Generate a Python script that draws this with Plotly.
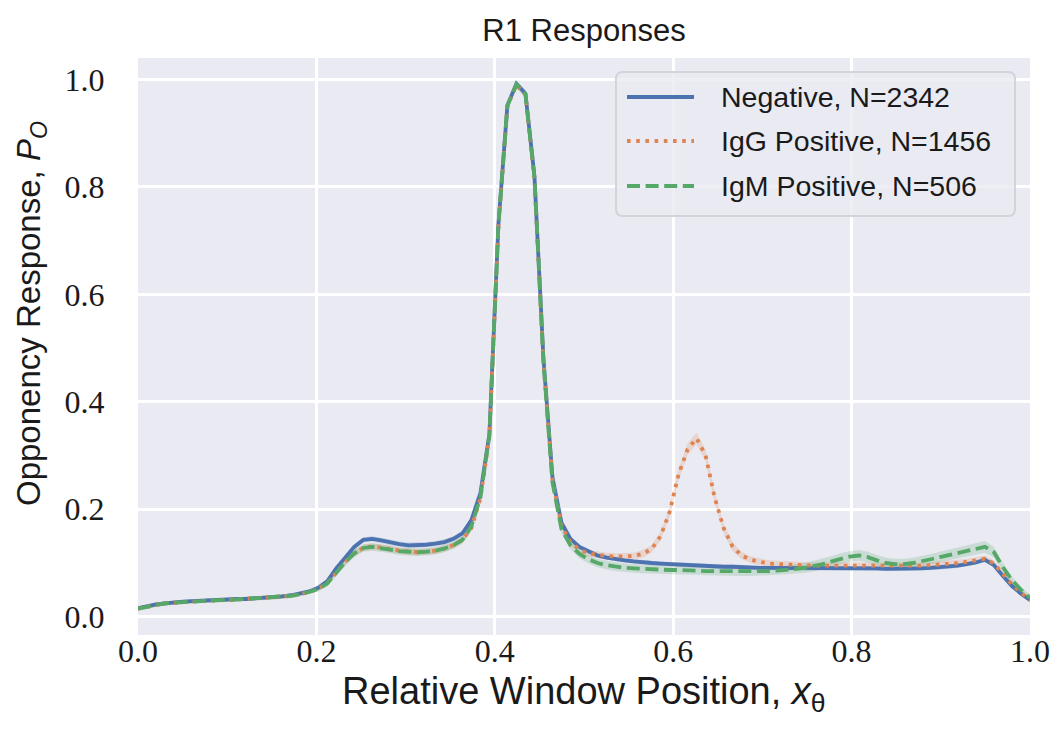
import plotly.graph_objects as go

# ---------------- data ----------------
x_pos = [i / 99 for i in range(100)]

neg = [0.016, 0.020, 0.023, 0.025, 0.027, 0.028, 0.029, 0.030, 0.031, 0.031,
       0.032, 0.033, 0.033, 0.034, 0.035, 0.036, 0.038, 0.040, 0.043, 0.047,
       0.054, 0.066, 0.090, 0.111, 0.130, 0.143, 0.145, 0.142, 0.138, 0.135,
       0.133, 0.133, 0.134, 0.136, 0.139, 0.145, 0.155, 0.180, 0.230, 0.340,
       0.730, 0.952, 0.992, 0.974, 0.820, 0.480, 0.260, 0.175, 0.145, 0.130,
       0.121, 0.114, 0.110, 0.107, 0.105, 0.103, 0.101, 0.100, 0.099, 0.098,
       0.097, 0.096, 0.095, 0.095, 0.094, 0.093, 0.093, 0.092, 0.092, 0.091,
       0.091, 0.091, 0.090, 0.090, 0.090, 0.090, 0.090, 0.090, 0.090, 0.090,
       0.090, 0.090, 0.090, 0.089, 0.089, 0.089, 0.089, 0.090, 0.091, 0.092,
       0.093, 0.095, 0.098, 0.101, 0.106, 0.096, 0.076, 0.057, 0.043, 0.031]

igg = [0.015, 0.019, 0.022, 0.025, 0.026, 0.028, 0.029, 0.030, 0.030, 0.031,
       0.031, 0.032, 0.033, 0.034, 0.035, 0.036, 0.037, 0.039, 0.042, 0.046,
       0.052, 0.063, 0.082, 0.102, 0.118, 0.128, 0.131, 0.129, 0.126, 0.123,
       0.121, 0.120, 0.121, 0.123, 0.127, 0.133, 0.143, 0.165, 0.220, 0.335,
       0.725, 0.950, 0.990, 0.972, 0.815, 0.475, 0.255, 0.170, 0.138, 0.125,
       0.118, 0.115, 0.113, 0.112, 0.112, 0.113, 0.117, 0.126, 0.150, 0.195,
       0.265, 0.312, 0.332, 0.300, 0.222, 0.165, 0.130, 0.114, 0.106, 0.102,
       0.099, 0.098, 0.097, 0.096, 0.095, 0.095, 0.095, 0.095, 0.095, 0.095,
       0.095, 0.095, 0.095, 0.095, 0.095, 0.094, 0.094, 0.095, 0.096, 0.097,
       0.098, 0.100, 0.102, 0.105, 0.108, 0.099, 0.080, 0.060, 0.045, 0.031]

igm = [0.015, 0.019, 0.022, 0.025, 0.026, 0.028, 0.029, 0.030, 0.030, 0.031,
       0.031, 0.032, 0.033, 0.034, 0.035, 0.036, 0.037, 0.039, 0.042, 0.046,
       0.052, 0.062, 0.082, 0.102, 0.118, 0.128, 0.130, 0.128, 0.125, 0.122,
       0.121, 0.120, 0.121, 0.123, 0.127, 0.133, 0.143, 0.168, 0.222, 0.338,
       0.728, 0.951, 0.991, 0.973, 0.818, 0.475, 0.250, 0.163, 0.133, 0.117,
       0.107, 0.100, 0.096, 0.093, 0.091, 0.090, 0.089, 0.088, 0.088, 0.087,
       0.087, 0.086, 0.086, 0.085, 0.085, 0.085, 0.084, 0.084, 0.084, 0.084,
       0.085, 0.086, 0.087, 0.089, 0.091, 0.094, 0.098, 0.103, 0.108, 0.112,
       0.114, 0.111, 0.105, 0.100, 0.098, 0.098, 0.100, 0.103, 0.107, 0.111,
       0.115, 0.119, 0.122, 0.126, 0.130, 0.120, 0.092, 0.068, 0.050, 0.035]

# confidence band half-widths
neg_ci = [0.003, 0.003, 0.003, 0.003, 0.003, 0.003, 0.003, 0.003, 0.003, 0.003,
          0.003, 0.003, 0.003, 0.003, 0.003, 0.003, 0.003, 0.003, 0.003, 0.003,
          0.004, 0.004, 0.005, 0.005, 0.005, 0.005, 0.005, 0.005, 0.005, 0.005,
          0.005, 0.005, 0.005, 0.005, 0.005, 0.005, 0.005, 0.005, 0.005, 0.005,
          0.005, 0.005, 0.005, 0.005, 0.005, 0.005, 0.005, 0.005, 0.004, 0.004,
          0.004, 0.004, 0.004, 0.004, 0.004, 0.004, 0.004, 0.004, 0.004, 0.004,
          0.004, 0.004, 0.004, 0.004, 0.004, 0.004, 0.004, 0.004, 0.004, 0.004,
          0.004, 0.004, 0.004, 0.004, 0.004, 0.004, 0.004, 0.004, 0.004, 0.004,
          0.004, 0.004, 0.004, 0.004, 0.004, 0.004, 0.004, 0.004, 0.004, 0.004,
          0.004, 0.004, 0.004, 0.004, 0.004, 0.004, 0.004, 0.004, 0.004, 0.004]

igg_ci = [0.004, 0.004, 0.004, 0.004, 0.004, 0.004, 0.004, 0.004, 0.004, 0.004,
          0.004, 0.004, 0.004, 0.004, 0.004, 0.004, 0.004, 0.004, 0.004, 0.004,
          0.005, 0.005, 0.005, 0.006, 0.006, 0.006, 0.006, 0.006, 0.006, 0.006,
          0.006, 0.006, 0.006, 0.006, 0.006, 0.006, 0.006, 0.006, 0.006, 0.006,
          0.006, 0.006, 0.006, 0.006, 0.006, 0.006, 0.006, 0.006, 0.006, 0.006,
          0.006, 0.006, 0.006, 0.006, 0.006, 0.006, 0.007, 0.007, 0.008, 0.009,
          0.010, 0.011, 0.011, 0.011, 0.010, 0.009, 0.008, 0.007, 0.006, 0.006,
          0.006, 0.006, 0.006, 0.006, 0.006, 0.006, 0.006, 0.006, 0.006, 0.006,
          0.006, 0.006, 0.006, 0.006, 0.006, 0.006, 0.006, 0.006, 0.006, 0.006,
          0.006, 0.006, 0.006, 0.006, 0.006, 0.006, 0.006, 0.006, 0.005, 0.005]

igm_ci = [0.004, 0.004, 0.004, 0.004, 0.004, 0.004, 0.004, 0.004, 0.004, 0.004,
          0.004, 0.004, 0.004, 0.004, 0.004, 0.004, 0.004, 0.004, 0.004, 0.004,
          0.005, 0.006, 0.006, 0.007, 0.007, 0.007, 0.007, 0.007, 0.007, 0.007,
          0.007, 0.007, 0.007, 0.007, 0.007, 0.007, 0.007, 0.007, 0.007, 0.007,
          0.007, 0.007, 0.007, 0.007, 0.007, 0.007, 0.008, 0.008, 0.008, 0.008,
          0.008, 0.008, 0.008, 0.008, 0.008, 0.008, 0.008, 0.008, 0.008, 0.008,
          0.008, 0.008, 0.008, 0.008, 0.008, 0.008, 0.008, 0.008, 0.008, 0.008,
          0.008, 0.008, 0.008, 0.009, 0.009, 0.010, 0.010, 0.010, 0.010, 0.010,
          0.010, 0.010, 0.010, 0.010, 0.010, 0.010, 0.010, 0.010, 0.010, 0.010,
          0.010, 0.010, 0.010, 0.011, 0.011, 0.010, 0.008, 0.007, 0.006, 0.006]

series_names = ["Negative, N=2342", "IgG Positive, N=1456", "IgM Positive, N=506"]
series_vals = [neg, igg, igm]
series_ci = [neg_ci, igg_ci, igm_ci]
colors = ["#4C72B0", "#DD8452", "#55A868"]
fills = ["rgba(76,114,176,0.22)", "rgba(221,132,82,0.22)", "rgba(85,168,104,0.22)"]
dashes = ["solid", "3.6px,5.6px", "13px,5.6px"]

x_ticks = [0.0, 0.2, 0.4, 0.6, 0.8, 1.0]
y_ticks = [0.0, 0.2, 0.4, 0.6, 0.8, 1.0]
tick_text = ["0.0", "0.2", "0.4", "0.6", "0.8", "1.0"]

# ---------------- figure ----------------
W, H = 1053, 734
L, R, T, B = 138, 23, 58, 99
PW, PH = W - L - R, H - T - B


def px(xp):
    return (xp - L) / PW


def py(yp):
    return (H - B - yp) / PH


fig = go.Figure()

for vals, ci, fc in zip(series_vals, series_ci, fills):
    upper = [v + c for v, c in zip(vals, ci)]
    lower = [v - c for v, c in zip(vals, ci)]
    fig.add_trace(go.Scatter(
        x=x_pos + x_pos[::-1], y=upper + lower[::-1],
        fill="toself", fillcolor=fc, line=dict(width=0),
        mode="lines", hoverinfo="skip", showlegend=False))

LW = 3.8
for name, vals, col, d in zip(series_names, series_vals, colors, dashes):
    fig.add_trace(go.Scatter(
        x=x_pos, y=vals, mode="lines", name=name,
        line=dict(color=col, width=LW, dash=d), showlegend=False))

text_col = "#1a1a1a"
tick_font = dict(family="Liberation Serif, DejaVu Serif, serif", size=32, color=text_col)
sans = "Liberation Sans, Arial, sans-serif"

fig.update_layout(
    width=W, height=H,
    margin=dict(l=L, r=R, t=T, b=B, autoexpand=False),
    paper_bgcolor="white",
    plot_bgcolor="#EAEAF2",
    title=dict(text="R1 Responses", x=(L + PW / 2) / W, xanchor="center",
               y=1 - 30 / H, yanchor="middle",
               font=dict(family=sans, size=31, color=text_col)),
    xaxis=dict(range=[0, 1], tickvals=x_ticks, ticktext=tick_text,
               showgrid=True, gridcolor="white", gridwidth=2.5,
               zeroline=False, showline=False, ticks="", automargin=False,
               ticklabelstandoff=-6, tickfont=tick_font),
    yaxis=dict(range=[-0.034, 1.040], tickvals=y_ticks, ticktext=tick_text,
               showgrid=True, gridcolor="white", gridwidth=2.5,
               zeroline=False, showline=False, automargin=False,
               ticks="outside", ticklen=26, tickcolor="rgba(0,0,0,0)",
               tickfont=tick_font),
)

# axis titles
fig.add_annotation(xref="paper", yref="paper", x=px(584), y=py(694),
                   xanchor="center", yanchor="middle", showarrow=False,
                   text="Relative Window Position, <i>x</i><sub>θ</sub>",
                   font=dict(family=sans, size=38, color=text_col))
fig.add_annotation(xref="paper", yref="paper", x=px(31), y=py(314),
                   xanchor="center", yanchor="middle", showarrow=False, textangle=-90,
                   text="Opponency Response, <i>P</i><sub><i>O</i></sub>",
                   font=dict(family=sans, size=33, color=text_col))

# legend (drawn manually to match the long handles and rounded frame)
bx0, by0, bx1, by1, rr = 616, 72, 1015, 216, 7
path = (f"M {px(bx0 + rr)},{py(by0)} L {px(bx1 - rr)},{py(by0)} "
        f"Q {px(bx1)},{py(by0)} {px(bx1)},{py(by0 + rr)} "
        f"L {px(bx1)},{py(by1 - rr)} Q {px(bx1)},{py(by1)} {px(bx1 - rr)},{py(by1)} "
        f"L {px(bx0 + rr)},{py(by1)} Q {px(bx0)},{py(by1)} {px(bx0)},{py(by1 - rr)} "
        f"L {px(bx0)},{py(by0 + rr)} Q {px(bx0)},{py(by0)} {px(bx0 + rr)},{py(by0)} Z")
fig.add_shape(type="path", path=path, xref="paper", yref="paper", layer="above",
              fillcolor="rgba(234,234,242,0.8)", line=dict(color="#D3D3DA", width=2))

legend_y = [97, 141, 186]
for name, col, d, ly in zip(series_names, colors, dashes, legend_y):
    fig.add_shape(type="line", xref="paper", yref="paper", layer="above",
                  x0=px(627), x1=px(694), y0=py(ly), y1=py(ly),
                  line=dict(color=col, width=LW, dash=d))
    fig.add_annotation(xref="paper", yref="paper", x=px(719), y=py(ly),
                       xanchor="left", yanchor="middle", showarrow=False,
                       text=name, font=dict(family=sans, size=28.5, color=text_col))

fig.write_html("out.html")
